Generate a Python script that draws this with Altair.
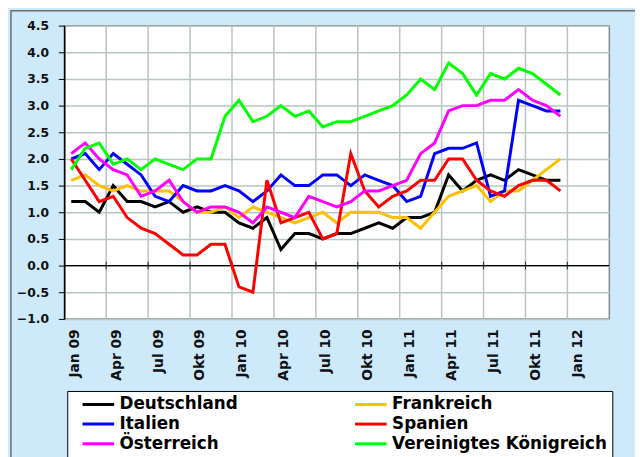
import altair as alt
import pandas as pd

# ---- data (monthly, Jan 09 .. Dec 11) ----
months = list(range(36))
series_names = ["Deutschland", "Frankreich", "Italien", "Spanien",
                "Österreich", "Vereinigtes Königreich"]
series_colors = ["#000000", "#FFC000", "#0000FF", "#FF0000", "#FF00FF", "#00FF00"]

deutschland = [1.2, 1.2, 1.0, 1.5, 1.2, 1.2, 1.1, 1.2, 1.0, 1.1, 1.0, 1.0,
               0.8, 0.7, 0.9, 0.3, 0.6, 0.6, 0.5, 0.6, 0.6, 0.7, 0.8, 0.7,
               0.9, 0.9, 1.0, 1.7, 1.4, 1.6, 1.7, 1.6, 1.8, 1.7, 1.6, 1.6]
frankreich = [1.6, 1.7, 1.5, 1.4, 1.5, 1.4, 1.4, 1.4, 1.2, 1.0, 1.0, 1.1,
              0.9, 1.1, 1.0, 0.9, 0.8, 0.9, 1.0, 0.8, 1.0, 1.0, 1.0, 0.9,
              0.9, 0.7, 1.0, 1.3, 1.4, 1.5, 1.2, 1.4, 1.4, 1.6, 1.8, 2.0]
italien = [2.0, 2.1, 1.8, 2.1, 1.9, 1.7, 1.3, 1.2, 1.5, 1.4, 1.4, 1.5,
           1.4, 1.2, 1.4, 1.7, 1.5, 1.5, 1.7, 1.7, 1.5, 1.7, 1.6, 1.5,
           1.2, 1.3, 2.1, 2.2, 2.2, 2.3, 1.3, 1.4, 3.1, 3.0, 2.9, 2.9]
spanien = [2.0, 1.6, 1.2, 1.3, 0.9, 0.7, 0.6, 0.4, 0.2, 0.2, 0.4, 0.4,
           -0.4, -0.5, 1.6, 0.8, 0.9, 1.0, 0.5, 0.6, 2.1, 1.4, 1.1, 1.3,
           1.4, 1.6, 1.6, 2.0, 2.0, 1.6, 1.4, 1.3, 1.5, 1.6, 1.6, 1.4]
oesterreich = [2.1, 2.3, 2.0, 1.8, 1.7, 1.3, 1.4, 1.6, 1.2, 1.0, 1.1, 1.1,
               1.0, 0.8, 1.1, 1.0, 0.9, 1.3, 1.2, 1.1, 1.2, 1.4, 1.4, 1.5,
               1.6, 2.1, 2.3, 2.9, 3.0, 3.0, 3.1, 3.1, 3.3, 3.1, 3.0, 2.8]
uk = [1.8, 2.2, 2.3, 1.9, 2.0, 1.8, 2.0, 1.9, 1.8, 2.0, 2.0, 2.8,
      3.1, 2.7, 2.8, 3.0, 2.8, 2.9, 2.6, 2.7, 2.7, 2.8, 2.9, 3.0,
      3.2, 3.5, 3.3, 3.8, 3.6, 3.2, 3.6, 3.5, 3.7, 3.6, 3.4, 3.2]

# legend is filled column by column
legend_order = ["Deutschland", "Italien", "Österreich",
                "Frankreich", "Spanien", "Vereinigtes Königreich"]

x_tick_values = [0, 3, 6, 9, 12, 15, 18, 21, 24, 27, 30, 33, 36]
x_tick_labels = ["Jan 09", "Apr 09", "Jul 09", "Okt 09", "Jan 10", "Apr 10",
                 "Jul 10", "Okt 10", "Jan 11", "Apr 11", "Jul 11", "Okt 11", "Jan 12"]
y_tick_values = [-1.0, -0.5, 0.0, 0.5, 1.0, 1.5, 2.0, 2.5, 3.0, 3.5, 4.0, 4.5]
grid_positions = [2.5, 5.5, 8.5, 11.5, 14.5, 17.5, 20.5, 23.5, 26.5, 29.5, 32.5, 35.5]

rows = []
for name, vals in zip(series_names, [deutschland, frankreich, italien, spanien, oesterreich, uk]):
    for m, v in zip(months, vals):
        rows.append({"m": m, "Land": name, "v": v})
df = pd.DataFrame(rows)

color_of = dict(zip(series_names, series_colors))
legend_colors = [color_of[n] for n in legend_order]

GRID = "#b7c6c2"
FONT = "DejaVu Sans"
W, H = 552, 297

xscale = alt.Scale(domain=[-0.5, 38.5], nice=False, zero=False)
yscale = alt.Scale(domain=[-1.0, 4.5], nice=False, zero=False)

label_expr = "[" + ",".join("'%s'" % s for s in x_tick_labels) + "][round(datum.value/3)]"
x_axis = alt.Axis(values=x_tick_values, labelExpr=label_expr, labelAngle=270,
                  domain=False, ticks=False, grid=False, title=None,
                  labelFont=FONT, labelFontWeight="bold", labelFontSize=14,
                  labelColor="#111111", labelPadding=10, labelOffset=3)
y_axis = alt.Axis(values=y_tick_values, format=".1f", title=None, grid=True,
                  gridColor=GRID, gridWidth=1.5, domainColor="black", domainWidth=1.5,
                  tickColor="black", tickSize=6, tickWidth=1,
                  labelFont=FONT, labelFontWeight="bold", labelFontSize=12.5,
                  labelColor="#111111", labelPadding=10)

# outer frame of the chart (decoration)
frame = alt.Chart(pd.DataFrame({"f": [0]})).mark_rect(
    fill=None, stroke="#6e6e6e", strokeWidth=1.5
).encode(x=alt.value(-54), x2=alt.value(W + 40), y=alt.value(-15), y2=alt.value(H + 160))

vgrid = alt.Chart(pd.DataFrame({"g": grid_positions})).mark_rule(
    color=GRID, strokeWidth=1.5
).encode(x=alt.X("g:Q", scale=xscale, axis=x_axis))

zero = alt.Chart(pd.DataFrame({"z": [0.0]})).mark_rule(
    color="black", strokeWidth=1.2
).encode(y=alt.Y("z:Q", scale=yscale, axis=y_axis))

zticks = alt.Chart(pd.DataFrame({"g": grid_positions, "z": [0.0] * len(grid_positions)})).mark_tick(
    orient="vertical", size=8, thickness=1.2, color="black"
).encode(x=alt.X("g:Q", scale=xscale, axis=x_axis),
         y=alt.Y("z:Q", scale=yscale, axis=y_axis))

lines = alt.Chart(df).mark_line(strokeWidth=3).encode(
    x=alt.X("m:Q", scale=xscale, axis=x_axis),
    y=alt.Y("v:Q", scale=yscale, axis=y_axis),
    color=alt.Color("Land:N", sort=legend_order,
                    scale=alt.Scale(domain=legend_order, range=legend_colors),
                    legend=alt.Legend(title=None, orient="none", legendX=3, legendY=370,
                                      columns=2, columnPadding=108,
                                      symbolType="M-3.2,0H3.2", symbolSize=100,
                                      symbolStrokeWidth=3, symbolOffset=18,
                                      labelFont=FONT, labelFontWeight="bold",
                                      labelFontSize=17, labelColor="black",
                                      labelOffset=13, labelLimit=400,
                                      strokeColor="black", fillColor="white",
                                      padding=5, rowPadding=2)),
)

chart = alt.layer(frame, vgrid, zero, zticks, lines).properties(
    width=W, height=H,
    autosize=alt.AutoSizeParams(type="none"),
    padding={"left": 57, "top": 15, "right": 26, "bottom": 137},
    background="#cde9fa",
).configure_view(stroke="#888888", strokeWidth=1.5, fill="white")

chart.save("out.html", embed_options={"renderer": "svg", "actions": False})
